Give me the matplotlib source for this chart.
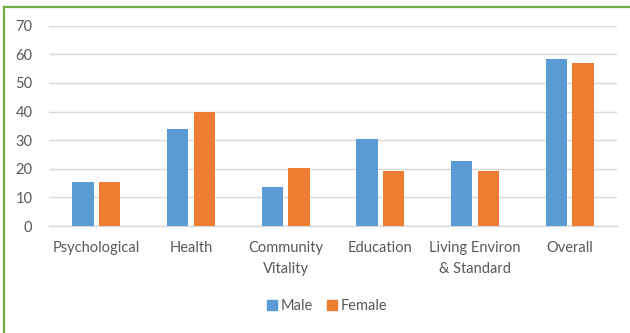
import matplotlib
matplotlib.use("Agg")
import matplotlib.pyplot as plt
from matplotlib.lines import Line2D
import numpy as np

categories = ["Psychological", "Health", "Community\nVitality", "Education",
              "Living Environ\n& Standard", "Overall"]
male = [15.5, 33.8, 13.5, 30.5, 22.8, 58.5]
female = [15.5, 39.7, 20.2, 19.2, 19.2, 56.9]
yticks = [0, 10, 20, 30, 40, 50, 60, 70]

BLUE = "#5B9BD5"
ORANGE = "#ED7D31"
TEXT = "#595959"
GRID = "#D9D9D9"
GREEN = "#70AD47"

plt.rcParams["font.family"] = ["Lato", "DejaVu Sans"]

W, H = 630, 333
fig = plt.figure(figsize=(W / 100, H / 100), dpi=100)
fig.patch.set_facecolor("white")

left, right = 49, 617
top, bottom = 25.7, 226
ax = fig.add_axes([left / W, 1 - bottom / H, (right - left) / W, (bottom - top) / H])

x = np.arange(len(categories))
bw = 0.225
off = 0.14
ax.bar(x - off, male, bw, color=BLUE, label="Male", zorder=3)
ax.bar(x + off, female, bw, color=ORANGE, label="Female", zorder=3)

ax.set_xlim(-0.5, len(categories) - 0.5)
ax.set_ylim(0, 70)
ax.set_yticks(yticks)
ax.set_yticklabels([str(v) for v in yticks])
ax.yaxis.grid(True, color=GRID, linewidth=1.0, zorder=0)
ax.set_axisbelow(True)
for s in ["top", "right", "left"]:
    ax.spines[s].set_visible(False)
ax.spines["bottom"].set_color(GRID)
ax.spines["bottom"].set_linewidth(1.0)
ax.tick_params(axis="both", length=0, colors=TEXT, labelsize=10.5)
ax.tick_params(axis="y", pad=12)
ax.tick_params(axis="x", pad=11)
ax.set_xticks(x)
ax.set_xticklabels(categories, linespacing=1.6)

handles = [Line2D([], [], marker="s", linestyle="none", markersize=7,
                  markerfacecolor=BLUE, markeredgecolor=BLUE),
           Line2D([], [], marker="s", linestyle="none", markersize=7,
                  markerfacecolor=ORANGE, markeredgecolor=ORANGE)]
leg = fig.legend(handles, ["Male", "Female"], loc="center",
                 bbox_to_anchor=(326 / W, 1 - 306 / H), ncol=2, frameon=False,
                 fontsize=10.5, handletextpad=0.1, columnspacing=0.8,
                 handlelength=1.0)
for t in leg.get_texts():
    t.set_color(TEXT)

# green frame around the chart
fig.add_artist(Line2D([4 / W, 1.0], [1 - 7.3 / H, 1 - 7.3 / H],
                      transform=fig.transFigure, color=GREEN, linewidth=1.6))
fig.add_artist(Line2D([4 / W, 4 / W], [0.0, 1 - 7.3 / H],
                      transform=fig.transFigure, color=GREEN, linewidth=1.6))

fig.savefig("out.png", dpi=100, facecolor="white")
